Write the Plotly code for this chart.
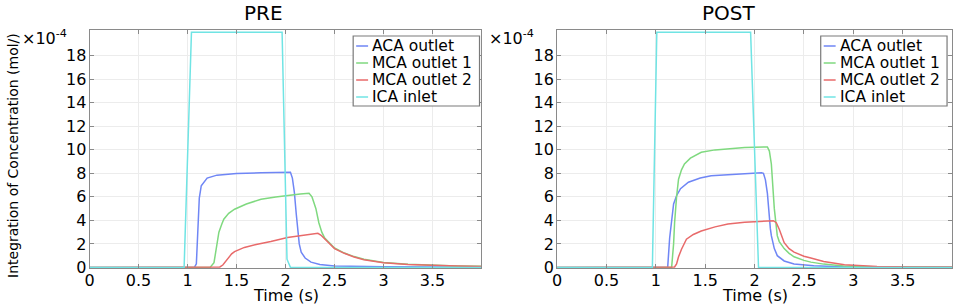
import plotly.graph_objects as go

# ---------------- data (values in units of 1e-4 mol) ----------------
series_names = ["ACA outlet", "MCA outlet 1", "MCA outlet 2", "ICA inlet"]
series_colors = ["#6f86f5", "#7fd97f", "#e86a6a", "#70e4e4"]

x_tick_vals = [0, 0.5, 1, 1.5, 2, 2.5, 3, 3.5]
x_tick_text = ["0", "0.5", "1", "1.5", "2", "2.5", "3", "3.5"]
y_tick_vals = [0, 2, 4, 6, 8, 10, 12, 14, 16, 18]
y_tick_text = ["0", "2", "4", "6", "8", "10", "12", "14", "16", "18"]

# PRE
pre_aca_t = [0, 1.07, 1.09, 1.11, 1.12, 1.14, 1.17, 1.2, 1.3, 1.5, 1.75, 2.0, 2.05, 2.07, 2.09,
             2.11, 2.12, 2.14, 2.16, 2.2, 2.26, 2.35, 2.5, 2.7, 3.0, 3.5, 4.0]
pre_aca_v = [0, 0, 0.3, 4.5, 5.9, 6.95, 7.3, 7.6, 7.85, 8.0, 8.05, 8.1, 8.1, 7.6, 6.4,
             4.5, 3.5, 2.0, 1.3, 0.8, 0.45, 0.25, 0.12, 0.08, 0.05, 0.03, 0.02]

pre_mca1_t = [0, 1.23, 1.27, 1.30, 1.32, 1.35, 1.37, 1.42, 1.48, 1.6, 1.75, 1.9, 2.02, 2.15, 2.24,
              2.27, 2.29, 2.31, 2.34, 2.37, 2.4, 2.45, 2.5, 2.6, 2.7, 2.8, 3.0, 3.25, 3.5, 3.75, 4.0]
pre_mca1_v = [0, 0, 0.4, 2.0, 3.0, 3.7, 4.1, 4.6, 4.95, 5.4, 5.8, 6.0, 6.15, 6.25, 6.3,
              6.0, 5.5, 5.0, 3.8, 3.0, 2.5, 2.05, 1.65, 1.22, 0.92, 0.7, 0.42, 0.26, 0.17, 0.12, 0.09]

pre_mca2_t = [0, 1.0, 1.33, 1.36, 1.39, 1.42, 1.45, 1.48, 1.53, 1.58, 1.7, 1.85, 2.02, 2.15, 2.25,
              2.33, 2.36, 2.4, 2.45, 2.5, 2.6, 2.7, 2.8, 3.0, 3.25, 3.5, 3.75, 4.0]
pre_mca2_v = [0, 0.03, 0.04, 0.2, 0.55, 0.85, 1.15, 1.35, 1.55, 1.7, 1.95, 2.2, 2.55, 2.7, 2.82,
              2.9, 2.75, 2.4, 2.0, 1.6, 1.2, 0.88, 0.66, 0.4, 0.25, 0.16, 0.11, 0.08]

pre_ica_t = [0, 0.965, 1.04, 1.965, 2.015, 2.05, 4.0]
pre_ica_v = [0, 0, 20, 20, 0.7, 0, 0]

# POST
post_aca_t = [0, 1.12, 1.14, 1.16, 1.18, 1.21, 1.25, 1.33, 1.45, 1.56, 1.75, 1.9, 2.07, 2.09, 2.11,
              2.13, 2.14, 2.16, 2.17, 2.2, 2.23, 2.3, 2.4, 2.5, 2.6, 2.8, 3.0, 3.5, 4.0]
post_aca_v = [0, 0, 2.5, 4.1, 5.4, 6.1, 6.7, 7.25, 7.6, 7.8, 7.9, 7.95, 8.05, 8.0, 7.45,
              6.3, 5.0, 3.3, 2.7, 1.6, 1.0, 0.55, 0.3, 0.2, 0.14, 0.08, 0.05, 0.03, 0.02]

post_mca1_t = [0, 1.16, 1.18, 1.19, 1.21, 1.23, 1.26, 1.29, 1.35, 1.46, 1.6, 1.73, 1.9, 2.1, 2.13,
               2.15, 2.17, 2.2, 2.23, 2.25, 2.3, 2.35, 2.4, 2.5, 2.57, 2.7, 2.9, 3.2, 3.6, 4.0]
post_mca1_v = [0, 0, 2.0, 3.8, 6.0, 7.5, 8.3, 8.8, 9.3, 9.8, 10.0, 10.1, 10.2, 10.25, 10.25,
               9.9, 8.8, 5.0, 2.7, 2.2, 1.6, 1.2, 0.9, 0.6, 0.45, 0.28, 0.13, 0.06, 0.03, 0.02]

post_mca2_t = [0, 0.97, 1.19, 1.21, 1.23, 1.26, 1.31, 1.38, 1.46, 1.6, 1.73, 1.9, 2.07, 2.19, 2.22,
               2.25, 2.3, 2.35, 2.4, 2.5, 2.57, 2.7, 2.91, 3.24, 3.6, 4.0]
post_mca2_v = [0, 0.03, 0.04, 0.3, 0.9, 1.55, 2.4, 2.8, 3.1, 3.45, 3.7, 3.85, 3.9, 3.97, 3.8,
               3.25, 2.1, 1.6, 1.3, 0.95, 0.8, 0.5, 0.22, 0.08, 0.04, 0.03]

post_ica_t = [0, 0.965, 1.01, 1.96, 2.04, 4.0]
post_ica_v = [0, 0, 20, 20, 0, 0]

panels = [
    ("PRE", [(pre_aca_t, pre_aca_v), (pre_mca1_t, pre_mca1_v), (pre_mca2_t, pre_mca2_v), (pre_ica_t, pre_ica_v)]),
    ("POST", [(post_aca_t, post_aca_v), (post_mca1_t, post_mca1_v), (post_mca2_t, post_mca2_v), (post_ica_t, post_ica_v)]),
]

# ---------------- layout ----------------
W, H = 957, 308
MT, MB = 30, 40
FONT = "DejaVu Sans"
x_domains = [[85 / W, 479 / W], [555 / W, 952 / W]]
title_centers_px = [260, 727]
legend_left_px = [350, 820]
legend_w_px = 127
legend_top_px, legend_bot_px = 36, 106
legend_rows_px = [46, 63, 80, 97]


def px_x(px):
    return px / W


def px_y(py):
    return (H - MB - py) / (H - MT - MB)


fig = go.Figure()
for p, (title, series) in enumerate(panels):
    xa = "x" if p == 0 else "x2"
    ya = "y" if p == 0 else "y2"
    for k, (t, v) in enumerate(series):
        fig.add_trace(go.Scatter(
            x=t, y=v, mode="lines", name=series_names[k],
            line=dict(color=series_colors[k], width=1.5),
            xaxis=xa, yaxis=ya, showlegend=False, hoverinfo="skip",
        ))

axis_common = dict(
    showline=True, linecolor="#8a8a8a", linewidth=1, mirror="allticks",
    ticks="inside", ticklen=4, tickcolor="#8a8a8a",
    showgrid=True, gridcolor="#ececec", gridwidth=1,
    zeroline=False, tickfont=dict(family=FONT, size=16, color="black"),
)

for p in range(2):
    sfx = "" if p == 0 else "2"
    fig.update_layout(**{
        "xaxis" + sfx: dict(axis_common, domain=x_domains[p], range=[0, 4.0],
                            tickvals=x_tick_vals, ticktext=x_tick_text,
                            anchor="y" + sfx, ticklabelstandoff=-2),
        "yaxis" + sfx: dict(axis_common, domain=[0, 1], range=[-0.05, 20.2],
                            tickvals=y_tick_vals, ticktext=y_tick_text,
                            anchor="x" + sfx, ticklabelstandoff=-1),
    })

shapes = []
ann = []
for p, (title, _) in enumerate(panels):
    cx = (x_domains[p][0] + x_domains[p][1]) / 2
    ann.append(dict(text=title, x=px_x(title_centers_px[p]), y=1, xref="paper", yref="paper",
                    xanchor="center", yanchor="middle", yshift=17, showarrow=False,
                    font=dict(family=FONT, size=20, color="black")))
    ann.append(dict(text="Time (s)", x=cx, y=0, xref="paper", yref="paper", xanchor="center",
                    yanchor="middle", yshift=-27, showarrow=False,
                    font=dict(family=FONT, size=16, color="black")))
    ann.append(dict(text="×10<sup>-4</sup>", x=x_domains[p][0], y=1, xref="paper", yref="paper",
                    xanchor="right", yanchor="middle", xshift=-21, yshift=-7, showarrow=False,
                    font=dict(family=FONT, size=16, color="black")))
    # legend box
    lx = legend_left_px[p]
    shapes.append(dict(type="rect", xref="paper", yref="paper",
                       x0=px_x(lx), x1=px_x(lx + legend_w_px),
                       y0=px_y(legend_bot_px), y1=px_y(legend_top_px),
                       line=dict(color="#7a7a7a", width=1.2), fillcolor="white", layer="above"))
    for k, name in enumerate(series_names):
        ry = legend_rows_px[k]
        shapes.append(dict(type="line", xref="paper", yref="paper",
                           x0=px_x(lx + 3), x1=px_x(lx + 15), y0=px_y(ry), y1=px_y(ry),
                           line=dict(color=series_colors[k], width=1.5), layer="above"))
        ann.append(dict(text=name, x=px_x(lx + 17), y=px_y(ry), xref="paper", yref="paper",
                        xanchor="left", yanchor="middle", showarrow=False,
                        font=dict(family=FONT, size=15.5, color="black")))

ann.append(dict(text="Integration of Concentration (mol/)", x=px_x(8), y=px_y(155),
                xref="paper", yref="paper", xanchor="center", yanchor="middle", textangle=-90,
                showarrow=False, font=dict(family=FONT, size=14, color="black")))

fig.update_layout(
    width=W, height=H, margin=dict(l=0, r=0, t=MT, b=MB),
    paper_bgcolor="white", plot_bgcolor="white",
    annotations=ann, shapes=shapes, showlegend=False,
)

fig.write_html("out.html", config={"displayModeBar": False},
               post_script="document.body.style.margin='0px';")
